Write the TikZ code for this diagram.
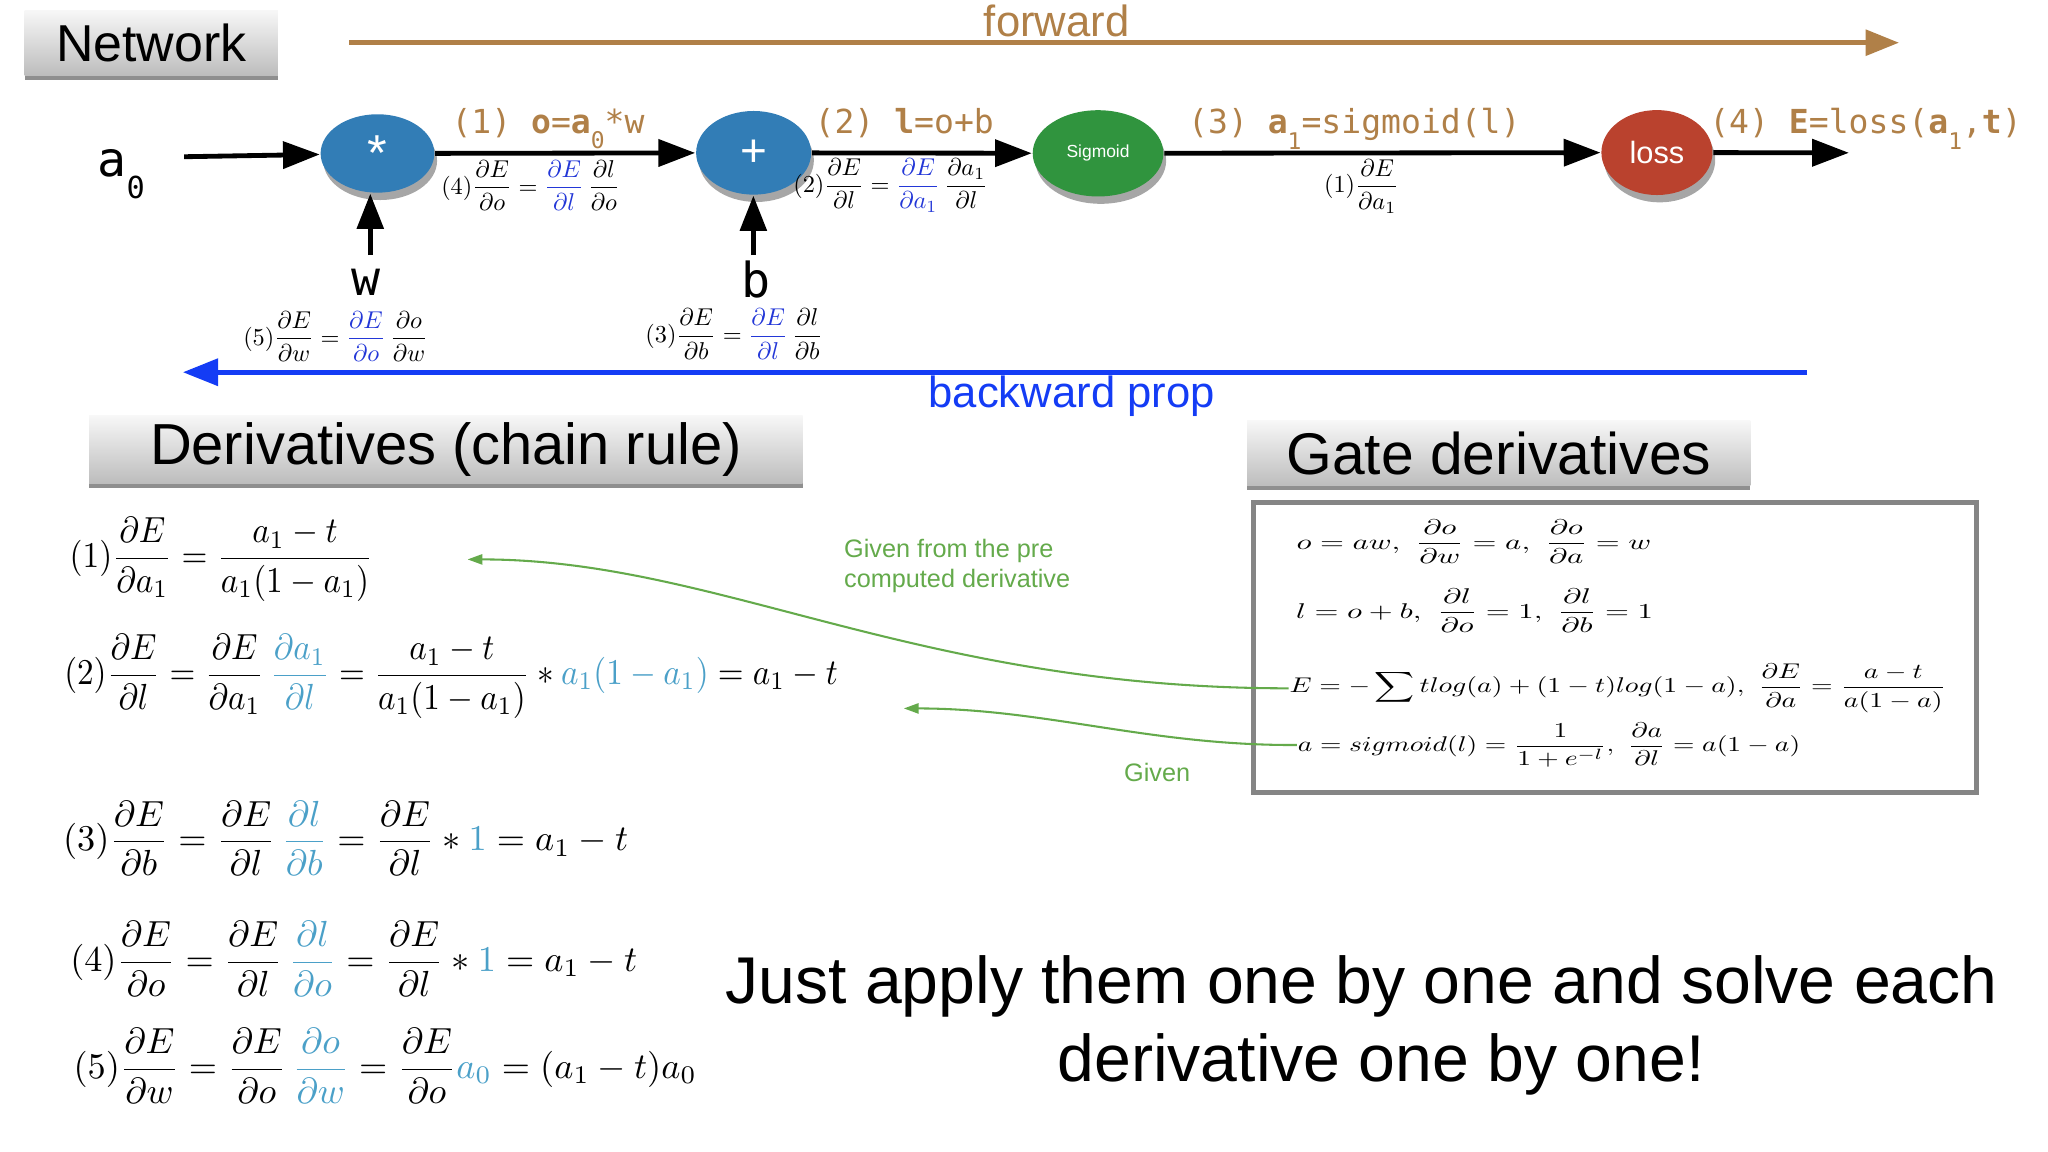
\documentclass[tikz,border=0pt]{standalone}
\usepackage[no-math]{fontspec}
\usepackage{graphicx}
\usetikzlibrary{arrows.meta,shapes.geometric,shadows}
\newfontfamily\sansf{Liberation Sans}
\newfontfamily\monof{DejaVu Sans Mono}
\definecolor{nodeblue}{RGB}{50,125,182}
\definecolor{nodegreen}{RGB}{48,148,62}
\definecolor{nodered}{RGB}{186,66,46}
\definecolor{fwdc}{RGB}{176,128,72}
\definecolor{bwdc}{RGB}{20,60,245}
\definecolor{mblue}{RGB}{35,55,215}
\definecolor{lblue}{RGB}{75,160,200}
\definecolor{annoc}{RGB}{100,170,75}
\definecolor{boxgray}{RGB}{133,133,133}
\newcommand{\lsub}[1]{\raisebox{-3.4pt}{\fontsize{5}{6}\selectfont #1}}
\newcommand{\pd}[2]{\frac{\partial #1}{\partial #2}}
\newcommand{\lblmath}[1]{\scalebox{0.53}{$\displaystyle #1$}}
\newcommand{\chainmath}[2][0.79]{\scalebox{#1}[0.79]{$\displaystyle #2$}}
\newcommand{\gatemath}[2][0.671]{\scalebox{#1}[0.463]{$\displaystyle #2$}}
\begin{document}
\begin{tikzpicture}[x=0.01cm,y=-0.01cm,
  gatenode/.style={ellipse, inner sep=0pt, text=white,
    drop shadow={shadow xshift=0.6pt, shadow yshift=-1.6pt, opacity=0.35, fill=black}},
  flow/.style={line width=1.05pt, -{Triangle[length=8pt,width=5.8pt]}},
  feed/.style={line width=1.15pt, -{Triangle[length=7.7pt,width=5.7pt]}},
  fwdarrow/.style={draw=fwdc, line width=1.15pt, -{Triangle[length=7.3pt,width=5.5pt]}},
  bwdarrow/.style={draw=bwdc, line width=1.1pt, -{Triangle[length=7.7pt,width=5.8pt]}},
  annoarrow/.style={draw=annoc, line width=0.45pt, -{Triangle[length=3.2pt,width=2.2pt]}},
  titlebox/.style={rectangle, inner sep=0pt, top color=black!3, bottom color=black!26,
    drop shadow={shadow xshift=0pt, shadow yshift=-1pt, opacity=0.8, fill=black!55}},
  edgelbl/.style={text=fwdc, font=\monof\fontsize{7.2}{8}\selectfont, inner sep=0pt, anchor=base west},
  dlbl/.style={inner sep=0pt},
  chain/.style={inner sep=0pt, anchor=west},
  gaterow/.style={inner sep=0pt, anchor=west},
  annotext/.style={text=annoc, font=\sansf\fontsize{5.5}{6.5}\selectfont, inner sep=0pt},
  io/.style={inner sep=0pt, font=\monof\fontsize{10.5}{12}\selectfont},
  bigtext/.style={inner sep=0pt, font=\sansf\fontsize{14.4}{17}\selectfont}
]
\useasboundingbox (0,0) rectangle (1568,882);

% title boxes
\node[titlebox, minimum width=1.936cm, minimum height=0.5cm, font=\sansf\fontsize{11.3}{13}\selectfont] (nettitle) at (115.8,32.7) {Network};
\node[titlebox, minimum width=5.46cm, minimum height=0.52cm, font=\sansf\fontsize{12.6}{14}\selectfont] (dertitle) at (341.4,344) {Derivatives (chain rule)};
\node[titlebox, minimum width=3.85cm, minimum height=0.50cm, font=\sansf\fontsize{12.8}{14}\selectfont] (gatetitle) at (1147.5,347) {Gate derivatives};

% forward / backward
\node[anchor=base, inner sep=0pt, text=fwdc, font=\sansf\fontsize{9.5}{11}\selectfont] (fwdtxt) at (809,28) {forward};
\coordinate (fwdS) at (267.5,32.7);
\coordinate (fwdE) at (1454,32.7);
\draw[fwdarrow] (fwdS) -- (fwdE);
\coordinate (bwdS) at (1383.5,285);
\coordinate (bwdE) at (140,285);
\draw[bwdarrow] (bwdS) -- (bwdE);
\node[anchor=base, inner sep=0pt, text=bwdc, font=\sansf\fontsize{9.5}{11}\selectfont] (bwdtxt) at (820.5,312) {backward prop};

% network nodes
\node[gatenode, fill=nodeblue, minimum width=0.87cm, minimum height=0.60cm, font=\sansf\fontsize{11}{12}\selectfont] (mul) at (289,117.5) {*};
\node[gatenode, fill=nodeblue, minimum width=0.88cm, minimum height=0.64cm, font=\sansf\fontsize{10}{12}\selectfont] (add) at (577,117) {+};
\node[gatenode, fill=nodegreen, minimum width=1.0cm, minimum height=0.66cm, font=\sansf\fontsize{3.8}{4.5}\selectfont] (sig) at (840.7,117.4) {Sigmoid};
\node[gatenode, fill=nodered, minimum width=0.85cm, minimum height=0.65cm, font=\sansf\fontsize{6.7}{8}\selectfont] (loss) at (1268.6,116.8) {loss};

% inputs
\node[io, anchor=base west] (a0) at (74,135.5) {a\raisebox{-4.6pt}{\fontsize{6.6}{7}\selectfont 0}};
\node[io, anchor=base] (wl) at (280.5,226.5) {w};
\node[io, anchor=base] (bl) at (578.6,227.5) {b};
\coordinate (a0S) at (141,120);
\coordinate (wS) at (283.5,195.3);
\coordinate (bS) at (576.8,195.3);
\coordinate (outE) at (1415.6,117);

\draw[flow] (a0S) -- (mul);
\draw[flow] (mul) -- (add);
\draw[flow] (add) -- (sig);
\draw[flow] (sig) -- (loss);
\draw[flow] (loss) -- (outE);
\draw[feed] (wS) -- (wS |- mul.south);
\draw[feed] (bS) -- (bS |- add.south);

% edge labels (forward)
\node[edgelbl] (e1) at (345,102) {(1) \textbf{o}=\textbf{a}\lsub{0}*w};
\node[edgelbl] (e2) at (623,102) {(2) \textbf{l}=o+b};
\node[edgelbl] (e3) at (909,102.5) {(3) \textbf{a}\lsub{1}=sigmoid(l)};
\node[edgelbl] (e4) at (1308,102.5) {(4) \textbf{E}=loss(\textbf{a}\lsub{1},\textbf{t})};

% derivative labels on the network
\node[dlbl] (d4) at (406.2,142.2) {\lblmath{(4)\pd{E}{o} = \textcolor{mblue}{\pd{E}{l}}\,\pd{l}{o}}};
\node[dlbl] (d2) at (682,142.2) {\lblmath{(2)\pd{E}{l} = \textcolor{mblue}{\pd{E}{a_1}}\,\pd{a_1}{l}}};
\node[dlbl] (d1) at (1042.5,142.7) {\lblmath{(1)\pd{E}{a_1}}};
\node[dlbl] (d5) at (257,257.8) {\lblmath{(5)\pd{E}{w} = \textcolor{mblue}{\pd{E}{o}}\,\pd{o}{w}}};
\node[dlbl] (d3) at (562,255.7) {\lblmath{(3)\pd{E}{b} = \textcolor{mblue}{\pd{E}{l}}\,\pd{l}{b}}};

% chain rule derivations
\node[chain] (c1) at (52.7,428.3) {\chainmath[0.725]{(1)\pd{E}{a_1} = \frac{a_1 - t}{a_1(1-a_1)}}};
\node[chain] (c2) at (48.5,518) {\chainmath[0.722]{(2)\pd{E}{l} = \pd{E}{a_1}\,\textcolor{lblue}{\pd{a_1}{l}} = \frac{a_1 - t}{a_1(1-a_1)} * \textcolor{lblue}{a_1(1-a_1)} = a_1 - t}};
\node[chain] (c3) at (47.6,641.9) {\chainmath{(3)\pd{E}{b} = \pd{E}{l}\,\textcolor{lblue}{\pd{l}{b}} = \pd{E}{l} * \textcolor{lblue}{1} = a_1 - t}};
\node[chain] (c4) at (53.1,734.3) {\chainmath{(4)\pd{E}{o} = \pd{E}{l}\,\textcolor{lblue}{\pd{l}{o}} = \pd{E}{l} * \textcolor{lblue}{1} = a_1 - t}};
\node[chain] (c5) at (55.7,816.2) {\chainmath{(5)\pd{E}{w} = \pd{E}{o}\,\textcolor{lblue}{\pd{o}{w}} = \pd{E}{o}\textcolor{lblue}{a_0} = (a_1 - t)a_0}};

% gate derivatives box
\node[draw=boxgray, line width=1.14pt, minimum width=5.537cm, minimum height=2.219cm, inner sep=0pt] (gatebox) at (1236.5,495.75) {};
\node[gaterow] (r1) at (992,414.8) {\gatemath{o = aw,\ \pd{o}{w} = a,\ \pd{o}{a} = w}};
\node[gaterow] (r2) at (991.7,467.6) {\gatemath{l = o + b,\ \pd{l}{o} = 1,\ \pd{l}{b} = 1}};
\node[gaterow] (r3) at (986.6,527) {\gatemath[0.605]{E = -\sum t log(a) + (1-t) log(1-a),\ \pd{E}{a} = \frac{a-t}{a(1-a)}}};
\node[gaterow] (r4) at (993,570.4) {\gatemath[0.60]{a = sigmoid(l) = \frac{1}{1+e^{-l}},\ \pd{a}{l} = a(1-a)}};

% annotations
\coordinate (g1E) at (358,428.3);
\coordinate (g2E) at (692,542.4);
\draw[annoarrow] (r3.west) .. controls (700,527) and (550,428.3) .. (g1E);
\draw[annoarrow] (r4.west) .. controls (880,571) and (800,542.4) .. (g2E);
\node[annotext, anchor=north west, align=left] (given1) at (645.6,412) {Given from the pre\\computed derivative};
\node[annotext, anchor=base west] (given2) at (860,598.5) {Given};

% closing remark
\node[bigtext, anchor=base] (just1) at (1042.5,768) {Just apply them one by one and solve each};
\node[bigtext, anchor=base] (just2) at (1057.5,828) {derivative one by one!};
\end{tikzpicture}
\end{document}
